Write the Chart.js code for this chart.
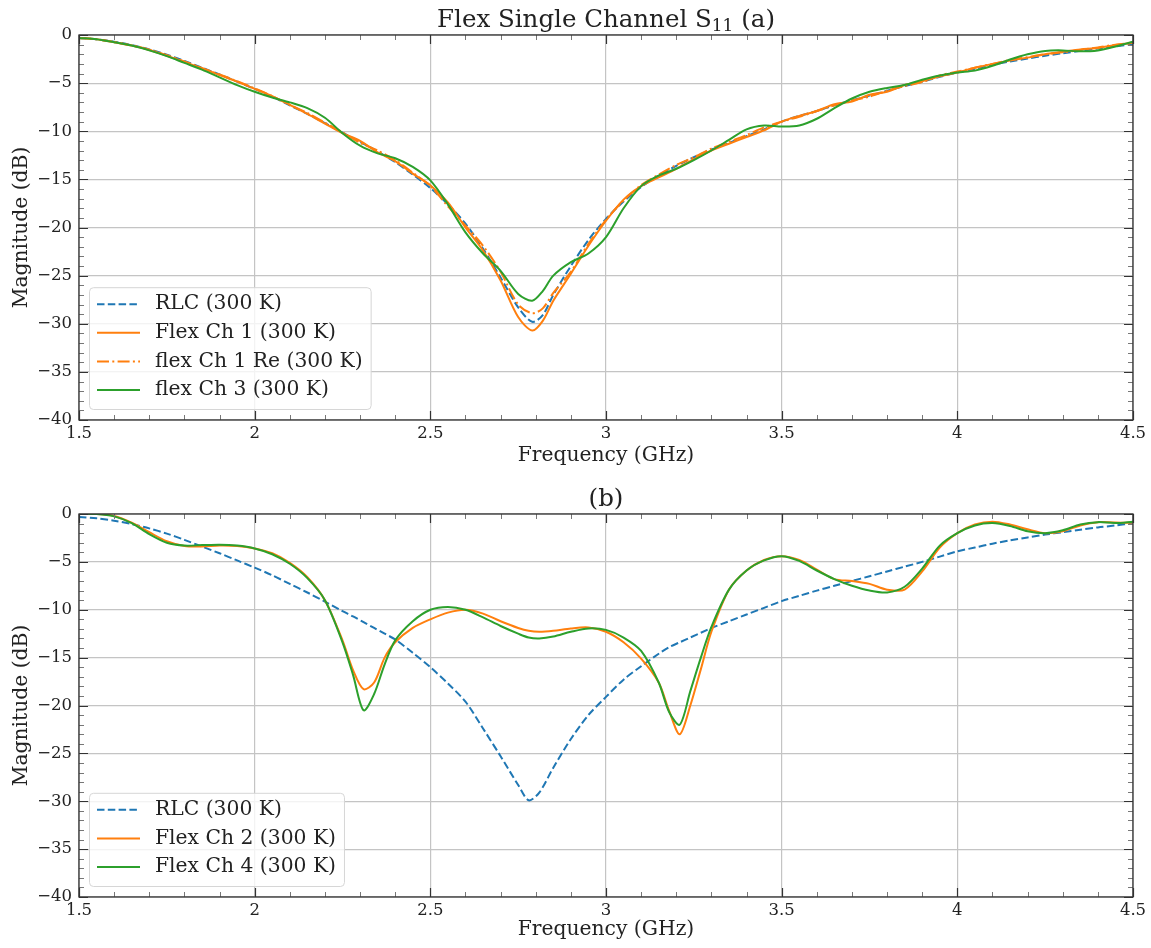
<!DOCTYPE html>
<html>
<head>
<meta charset="utf-8">
<title>Flex Single Channel S11</title>
<script src="https://cdn.jsdelivr.net/npm/chart.js@4.4.0/dist/chart.umd.min.js"></script>
<style>
  html, body { margin: 0; padding: 0; background: #fff; }
  #wrap { position: relative; width: 1151px; height: 948px; }
  .panel { position: absolute; left: 0; width: 1151px; height: 474px; }
  #panel-a { top: 0; }
  #panel-b { top: 474px; }
</style>
</head>
<body>
<div id="wrap">
  <div class="panel" id="panel-a"><canvas id="chart-a"></canvas></div>
  <div class="panel" id="panel-b"><canvas id="chart-b"></canvas></div>
</div>
<script>
'use strict';

// ── Data: panel (a), single channel ───────────────────────────────────────
const FREQ_A = [
  1.50,1.55,1.60,1.65,1.70,1.75,1.80,1.85,1.90,1.95,
  2.00,2.05,2.10,2.15,2.20,2.25,2.30,2.35,2.40,2.45,
  2.50,2.55,2.60,2.65,2.70,2.75,2.79,2.82,2.85,2.90,
  2.95,3.00,3.05,3.10,3.15,3.20,3.25,3.30,3.35,3.40,
  3.45,3.50,3.55,3.60,3.65,3.70,3.75,3.80,3.85,3.90,
  3.95,4.00,4.05,4.10,4.15,4.20,4.25,4.30,4.35,4.40,
  4.45,4.50];

const RLC_A = [
  -0.30,-0.45,-0.70,-1.05,-1.50,-2.05,-2.70,-3.40,-4.10,-4.85,
  -5.60,-6.40,-7.30,-8.20,-9.15,-10.15,-11.10,-12.10,-13.20,-14.50,
  -15.90,-17.60,-19.60,-22.20,-25.20,-28.30,-29.80,-29.10,-27.00,-24.00,
  -21.30,-19.10,-17.30,-15.80,-14.60,-13.60,-12.70,-11.90,-11.20,-10.50,
  -9.80,-9.00,-8.40,-7.90,-7.30,-6.80,-6.30,-5.80,-5.30,-4.85,
  -4.35,-3.90,-3.50,-3.10,-2.75,-2.45,-2.15,-1.90,-1.65,-1.40,
  -1.20,-0.95];

const CH1_A = [
  -0.30,-0.45,-0.75,-1.10,-1.55,-2.15,-2.80,-3.45,-4.15,-4.85,
  -5.60,-6.35,-7.25,-8.20,-9.20,-10.20,-11.00,-12.20,-13.10,-14.40,
  -15.60,-17.40,-20.00,-22.40,-25.50,-29.30,-30.70,-29.70,-27.60,-24.80,
  -21.90,-19.30,-17.10,-15.70,-14.80,-13.90,-12.90,-12.00,-11.30,-10.60,
  -9.90,-9.00,-8.40,-7.90,-7.20,-6.90,-6.20,-5.90,-5.20,-4.80,
  -4.30,-3.90,-3.40,-3.00,-2.65,-2.35,-2.00,-1.75,-1.50,-1.35,
  -1.05,-0.80];

const CH1_RE_A = [
  -0.30,-0.45,-0.72,-1.08,-1.52,-2.10,-2.75,-3.45,-4.10,-4.80,
  -5.55,-6.35,-7.25,-8.10,-9.10,-10.10,-11.20,-12.00,-13.00,-14.30,
  -15.70,-17.80,-19.80,-21.90,-24.60,-28.00,-28.90,-28.40,-26.80,-24.60,
  -21.70,-19.20,-17.20,-15.60,-14.50,-13.50,-12.70,-11.80,-11.10,-10.40,
  -9.60,-9.00,-8.50,-7.90,-7.30,-6.80,-6.40,-5.80,-5.30,-4.90,
  -4.20,-3.80,-3.40,-3.00,-2.60,-2.30,-2.00,-1.80,-1.55,-1.30,
  -1.00,-0.85];

const CH3_A = [
  -0.30,-0.45,-0.75,-1.10,-1.60,-2.20,-2.90,-3.60,-4.40,-5.20,
  -5.90,-6.50,-7.00,-7.60,-8.60,-10.20,-11.50,-12.30,-12.80,-13.70,
  -15.10,-17.60,-20.50,-22.70,-24.50,-26.90,-27.60,-26.60,-25.00,-23.60,
  -22.70,-21.00,-18.00,-15.70,-14.60,-13.90,-13.00,-12.00,-10.90,-9.80,
  -9.40,-9.50,-9.40,-8.70,-7.60,-6.60,-5.90,-5.50,-5.20,-4.65,
  -4.20,-3.90,-3.70,-3.20,-2.55,-2.00,-1.65,-1.60,-1.70,-1.60,
  -1.20,-0.70];

// ── Data: panel (b), channels 2 and 4 ─────────────────────────────────────
const FREQ_B = [
  1.50,1.55,1.60,1.65,1.70,1.75,1.80,1.85,1.90,1.95,
  2.00,2.05,2.10,2.15,2.20,2.25,2.28,2.31,2.34,2.37,
  2.40,2.45,2.50,2.55,2.60,2.65,2.70,2.75,2.78,2.81,
  2.85,2.90,2.95,3.00,3.05,3.10,3.15,3.18,3.21,3.24,
  3.27,3.30,3.35,3.40,3.45,3.50,3.55,3.60,3.65,3.70,
  3.75,3.80,3.85,3.90,3.95,4.00,4.05,4.10,4.15,4.20,
  4.25,4.30,4.35,4.40,4.45,4.50];

const RLC_B = [
  -0.30,-0.45,-0.70,-1.05,-1.50,-2.05,-2.70,-3.40,-4.10,-4.85,
  -5.60,-6.40,-7.30,-8.20,-9.15,-10.15,-10.70,-11.30,-11.90,-12.50,
  -13.10,-14.50,-16.00,-17.70,-19.60,-22.40,-25.30,-28.30,-29.90,-29.10,
  -26.50,-23.50,-21.00,-19.10,-17.30,-15.90,-14.60,-13.90,-13.40,-12.90,
  -12.40,-11.90,-11.20,-10.50,-9.80,-9.10,-8.55,-8.00,-7.50,-7.00,
  -6.50,-6.00,-5.50,-5.00,-4.45,-3.90,-3.50,-3.10,-2.75,-2.45,
  -2.15,-1.90,-1.65,-1.40,-1.20,-0.95];

const CH2_B = [
  0.00,0.00,-0.20,-0.90,-1.90,-2.85,-3.35,-3.40,-3.30,-3.35,
  -3.60,-4.10,-5.10,-6.60,-9.00,-13.20,-16.30,-18.30,-17.60,-15.00,
  -13.40,-11.90,-11.00,-10.30,-10.00,-10.40,-11.20,-11.90,-12.20,-12.30,
  -12.20,-11.95,-11.85,-12.30,-13.40,-15.10,-17.60,-20.60,-23.00,-20.00,
  -16.20,-12.30,-7.90,-5.90,-4.80,-4.40,-4.80,-5.80,-6.80,-7.00,
  -7.30,-7.90,-7.90,-6.00,-3.50,-2.00,-1.10,-0.80,-1.10,-1.60,
  -2.00,-1.80,-1.20,-0.85,-0.90,-0.90];

const CH4_B = [
  0.00,0.00,-0.25,-0.95,-2.10,-3.00,-3.30,-3.25,-3.20,-3.30,
  -3.60,-4.20,-5.20,-6.70,-9.00,-13.40,-16.80,-20.50,-18.80,-15.70,
  -13.20,-11.20,-10.00,-9.70,-10.00,-10.80,-11.70,-12.50,-12.90,-13.00,
  -12.80,-12.30,-11.95,-12.10,-12.90,-14.30,-17.60,-20.70,-22.00,-18.50,
  -15.00,-11.80,-7.90,-5.90,-4.85,-4.40,-4.90,-5.90,-6.80,-7.50,
  -8.00,-8.20,-7.60,-5.70,-3.30,-2.00,-1.20,-0.95,-1.25,-1.80,
  -2.00,-1.70,-1.10,-0.85,-0.95,-0.80];

// ── Axes ──────────────────────────────────────────────────────────────────
const X_MIN = 1.5, X_MAX = 4.5, X_STEP = 0.5, X_MINOR = 0.1;
const Y_MIN = -40, Y_MAX = 0, Y_STEP = 5, Y_MINOR = 1;

const FONT  = "'DejaVu Serif', serif";
const INK   = '#222';
const COLORS = { blue: '#1f77b4', orange: '#ff7f0e', green: '#2ca02c' };
const DASHED  = [7.5, 3.3];
const DASHDOT = [12, 3.3, 2, 3.3];

// ── Plugins ───────────────────────────────────────────────────────────────
// Box around the plot with inward major / minor ticks on all four sides
const frameTicks = {
  id: 'frameTicks',
  afterDraw(chart) {
    const { ctx, chartArea: ca, scales: { x, y } } = chart;
    const MAJ = 9, MIN = 5;
    ctx.save();

    const xTicks = (step, len) => {
      for (let v = X_MIN; v <= X_MAX + 1e-9; v += step) {
        const px = Math.round(x.getPixelForValue(v)) + 0.5;
        ctx.moveTo(px, ca.bottom); ctx.lineTo(px, ca.bottom - len);
        ctx.moveTo(px, ca.top);    ctx.lineTo(px, ca.top + len);
      }
    };
    const yTicks = (step, len) => {
      for (let v = Y_MIN; v <= Y_MAX + 1e-9; v += step) {
        const py = Math.round(y.getPixelForValue(v)) + 0.5;
        ctx.moveTo(ca.left, py);  ctx.lineTo(ca.left + len, py);
        ctx.moveTo(ca.right, py); ctx.lineTo(ca.right - len, py);
      }
    };

    ctx.beginPath();
    ctx.strokeStyle = '#777';
    ctx.lineWidth = 1;
    xTicks(X_MINOR, MIN);
    yTicks(Y_MINOR, MIN);
    ctx.stroke();

    ctx.beginPath();
    ctx.strokeStyle = '#333';
    ctx.lineWidth = 1.2;
    xTicks(X_STEP, MAJ);
    yTicks(Y_STEP, MAJ);
    ctx.stroke();

    ctx.strokeStyle = '#333';
    ctx.lineWidth = 1.3;
    ctx.strokeRect(ca.left, ca.top, ca.right - ca.left, ca.bottom - ca.top);
    ctx.restore();
  },
};

// Panel title, with an optional subscript piece
const panelTitle = {
  id: 'panelTitle',
  afterDraw(chart, args, opts) {
    const { ctx, chartArea: ca } = chart;
    const main = opts.main || '', sub = opts.sub || '', tail = opts.tail || '';
    const big = `24.5px ${FONT}`, small = `17px ${FONT}`;
    ctx.save();
    ctx.fillStyle = INK;
    ctx.textBaseline = 'alphabetic';
    ctx.font = big;
    const wMain = ctx.measureText(main).width;
    const wTail = ctx.measureText(tail).width;
    ctx.font = small;
    const wSub = ctx.measureText(sub).width;
    const total = wMain + wSub + wTail;
    const base = ca.top - 8;
    let x0 = (ca.left + ca.right) / 2 - total / 2;
    ctx.textAlign = 'left';
    ctx.font = big;
    ctx.fillText(main, x0, base);
    x0 += wMain;
    ctx.font = small;
    ctx.fillText(sub, x0, base + 4);
    x0 += wSub;
    ctx.font = big;
    ctx.fillText(tail, x0, base);
    ctx.restore();
  },
};

// Framed legend in the lower-left corner of the plot
const cornerLegend = {
  id: 'cornerLegend',
  afterDraw(chart) {
    const { ctx, chartArea: ca } = chart;
    const sets = chart.data.datasets;
    const rowH = 28.6;
    ctx.save();
    ctx.font = `20.3px ${FONT}`;
    const maxW = Math.max(...sets.map(d => ctx.measureText(d.label).width));
    const w = 66 + maxW + 8;
    const h = 36 + (sets.length - 1) * rowH;
    const x0 = ca.left + 10;
    const y0 = ca.bottom - 11 - h;

    ctx.beginPath();
    ctx.roundRect(x0 + 0.5, y0 + 0.5, w, h, 4);
    ctx.fillStyle = 'rgba(255,255,255,0.8)';
    ctx.fill();
    ctx.strokeStyle = '#d6d6d6';
    ctx.lineWidth = 1;
    ctx.stroke();

    sets.forEach((d, i) => {
      const cy = y0 + 16 + i * rowH;
      ctx.beginPath();
      ctx.setLineDash(d.borderDash || []);
      ctx.strokeStyle = d.borderColor;
      ctx.lineWidth = d.borderWidth;
      ctx.moveTo(x0 + 8, cy + 1);
      ctx.lineTo(x0 + 51, cy + 1);
      ctx.stroke();
      ctx.setLineDash([]);
      ctx.fillStyle = INK;
      ctx.textAlign = 'left';
      ctx.textBaseline = 'middle';
      ctx.fillText(d.label, x0 + 66, cy + 1);
    });
    ctx.restore();
  },
};

// ── Chart builders ────────────────────────────────────────────────────────
function pairs(freq, vals) {
  return freq.map((f, i) => ({ x: f, y: vals[i] }));
}

function series(label, freq, vals, color, dash, order) {
  return {
    label,
    data: pairs(freq, vals),
    borderColor: color,
    borderWidth: 2,
    borderDash: dash,
    pointRadius: 0,
    tension: 0.3,
    fill: false,
    order,
  };
}

function fmtX(v) { return String(+v.toFixed(2)); }
function fmtY(v) { return v < 0 ? '\u2212' + Math.abs(v) : String(v); }

function makeOptions(padTop, xHeight, title) {
  const tickFont = { family: FONT, size: 16.5 };
  const labelFont = { family: FONT, size: 20.3, lineHeight: 1.2 };
  return {
    responsive: true,
    maintainAspectRatio: false,
    animation: false,
    layout: { padding: { top: padTop, right: 18, bottom: 0, left: 0 } },
    plugins: {
      legend: { display: false },
      tooltip: { enabled: false },
      panelTitle: title,
    },
    scales: {
      x: {
        type: 'linear', min: X_MIN, max: X_MAX,
        ticks: { stepSize: X_STEP, color: INK, font: tickFont, padding: 4, callback: fmtX, maxRotation: 0 },
        grid: { color: '#c4c4c4', lineWidth: 1.2, drawTicks: false },
        border: { display: false },
        title: { display: true, text: 'Frequency (GHz)', color: INK, font: labelFont, padding: { top: 0, bottom: 6 } },
        afterFit: s => { s.height = xHeight; },
      },
      y: {
        type: 'linear', min: Y_MIN, max: Y_MAX,
        ticks: { stepSize: Y_STEP, color: INK, font: tickFont, padding: 7, callback: fmtY },
        grid: { color: '#c4c4c4', lineWidth: 1.2, drawTicks: false },
        border: { display: false },
        title: { display: true, text: 'Magnitude (dB)', color: INK, font: labelFont, padding: { top: 10, bottom: 0 } },
        afterFit: s => { s.width = 79; },
      },
    },
  };
}

// ── Boot ──────────────────────────────────────────────────────────────────
new Chart(document.getElementById('chart-a'), {
  type: 'line',
  data: {
    datasets: [
      series('RLC (300 K)',          FREQ_A, RLC_A,    COLORS.blue,   DASHED,  3),
      series('Flex Ch 1 (300 K)',    FREQ_A, CH1_A,    COLORS.orange, [],      2),
      series('flex Ch 1 Re (300 K)', FREQ_A, CH1_RE_A, COLORS.orange, DASHDOT, 1),
      series('flex Ch 3 (300 K)',    FREQ_A, CH3_A,    COLORS.green,  [],      0),
    ],
  },
  options: makeOptions(35, 54, { main: 'Flex Single Channel S', sub: '11', tail: ' (a)' }),
  plugins: [frameTicks, panelTitle, cornerLegend],
});

new Chart(document.getElementById('chart-b'), {
  type: 'line',
  data: {
    datasets: [
      series('RLC (300 K)',       FREQ_B, RLC_B, COLORS.blue,   DASHED, 2),
      series('Flex Ch 2 (300 K)', FREQ_B, CH2_B, COLORS.orange, [],     1),
      series('Flex Ch 4 (300 K)', FREQ_B, CH4_B, COLORS.green,  [],     0),
    ],
  },
  options: makeOptions(40, 51, { main: '(b)', sub: '', tail: '' }),
  plugins: [frameTicks, panelTitle, cornerLegend],
});
</script>
</body>
</html>
